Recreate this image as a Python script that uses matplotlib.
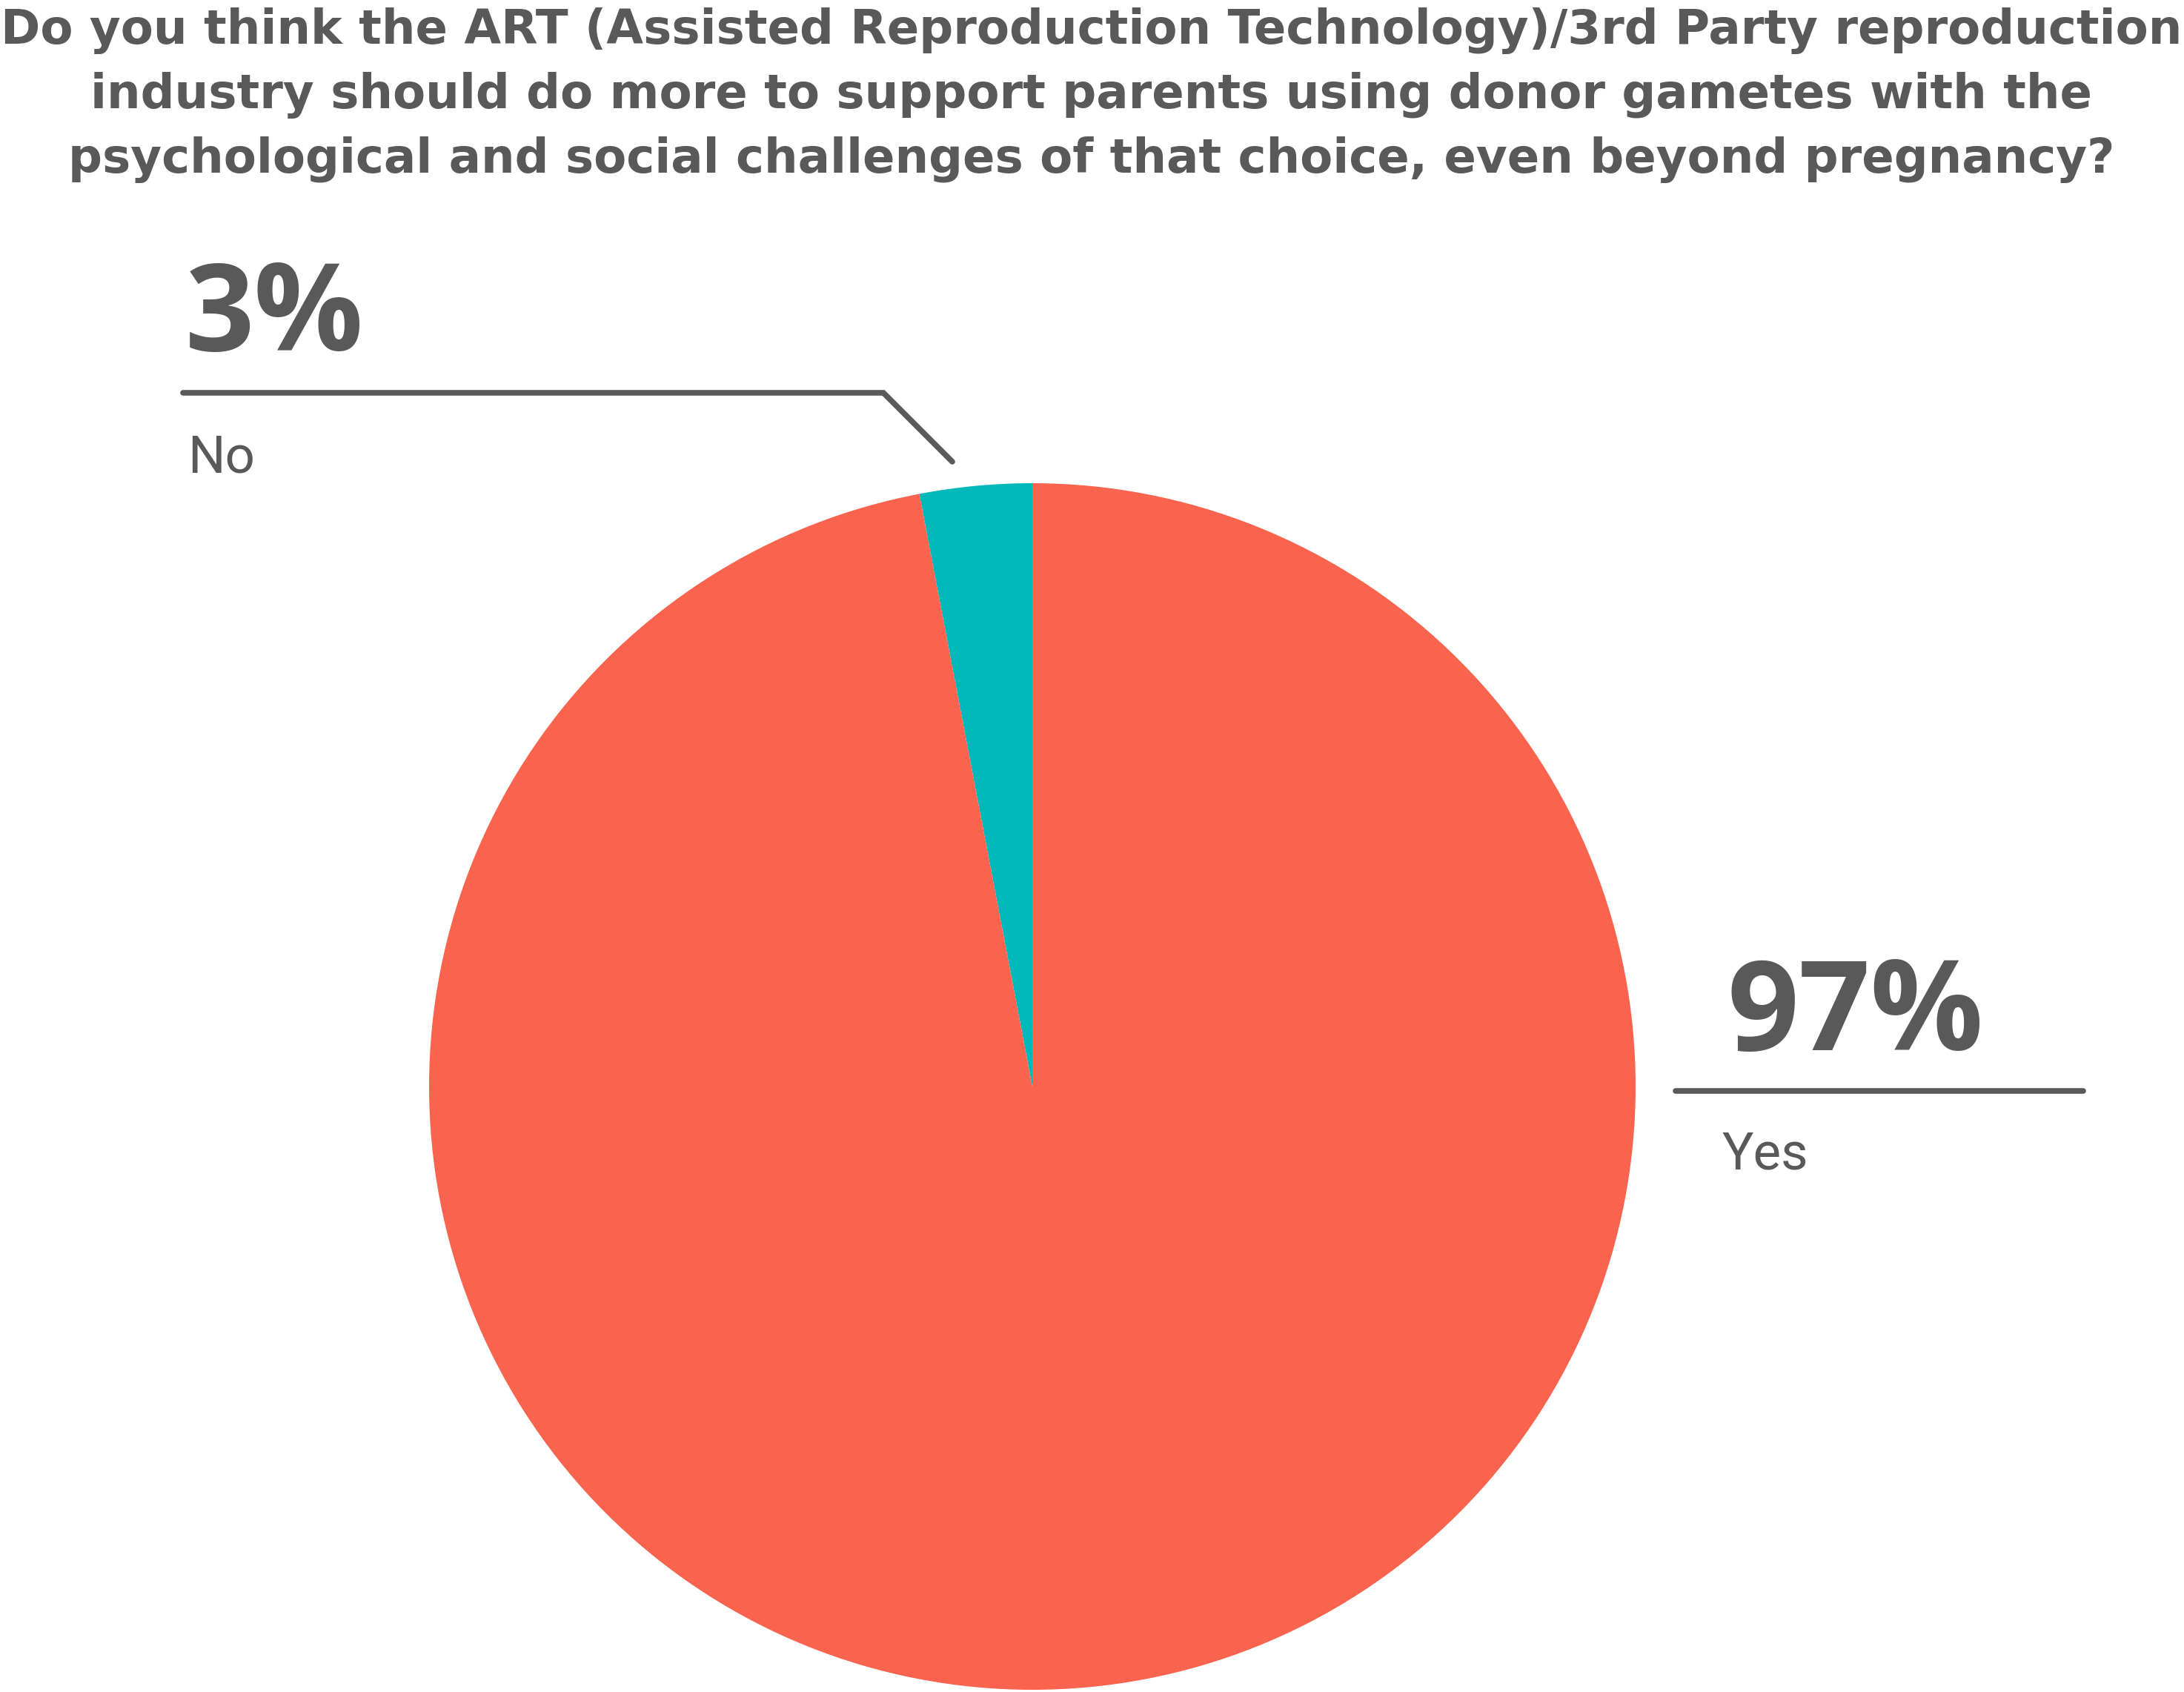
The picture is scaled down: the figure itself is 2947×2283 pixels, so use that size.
import matplotlib.pyplot as plt

# data
labels = ['No', 'Yes']
values = [3, 97]
colors = ['#00B8BA', '#FA634D']
pct_labels = ['3%', '97%']

title_lines = [
    'Do you think the ART (Assisted Reproduction Technology)/3rd Party reproduction',
    'industry should do more to support parents using donor gametes with the',
    'psychological and social challenges of that choice, even beyond pregnancy?',
]

W, H = 2947, 2283
gray = '#595959'

fig = plt.figure(figsize=(W / 100, H / 100), dpi=100)
ax = fig.add_axes([0, 0, 1, 1])

# pie drawn in pixel coordinates (y goes down)
ax.pie(values, colors=colors, center=(1393, 1466), radius=814,
       startangle=270, counterclock=False, frame=True,
       wedgeprops=dict(linewidth=0))
ax.set_xlim(0, W)
ax.set_ylim(H, 0)
ax.set_aspect('equal')
ax.axis('off')

# title
for i, line in enumerate(title_lines):
    ax.text(1473, 59 + i * 87, line, ha='center', va='baseline',
            fontsize=46.3, fontweight='bold', color=gray, family='DejaVu Sans')

# No label with leader line
ax.plot([247, 1192, 1285], [530, 530, 623], color=gray, lw=5.5,
        solid_capstyle='round', solid_joinstyle='miter')
ax.text(250, 473, pct_labels[0], ha='left', va='baseline', fontsize=118,
        fontweight='bold', color=gray, family=['Open Sans', 'DejaVu Sans'])
ax.text(253, 637, labels[0], ha='left', va='baseline', fontsize=51,
        fontweight='normal', color=gray, family=['Roboto', 'DejaVu Sans'])

# Yes label
ax.plot([2261, 2811], [1472, 1472], color=gray, lw=5.5, solid_capstyle='round')
ax.text(2330, 1417, pct_labels[1], ha='left', va='baseline', fontsize=122,
        fontweight='bold', color=gray, family=['Open Sans', 'DejaVu Sans'])
ax.text(2323, 1578, labels[1], ha='left', va='baseline', fontsize=51,
        fontweight='normal', color=gray, family=['Roboto', 'DejaVu Sans'])

fig.savefig('out.png', dpi=100, facecolor='white')
